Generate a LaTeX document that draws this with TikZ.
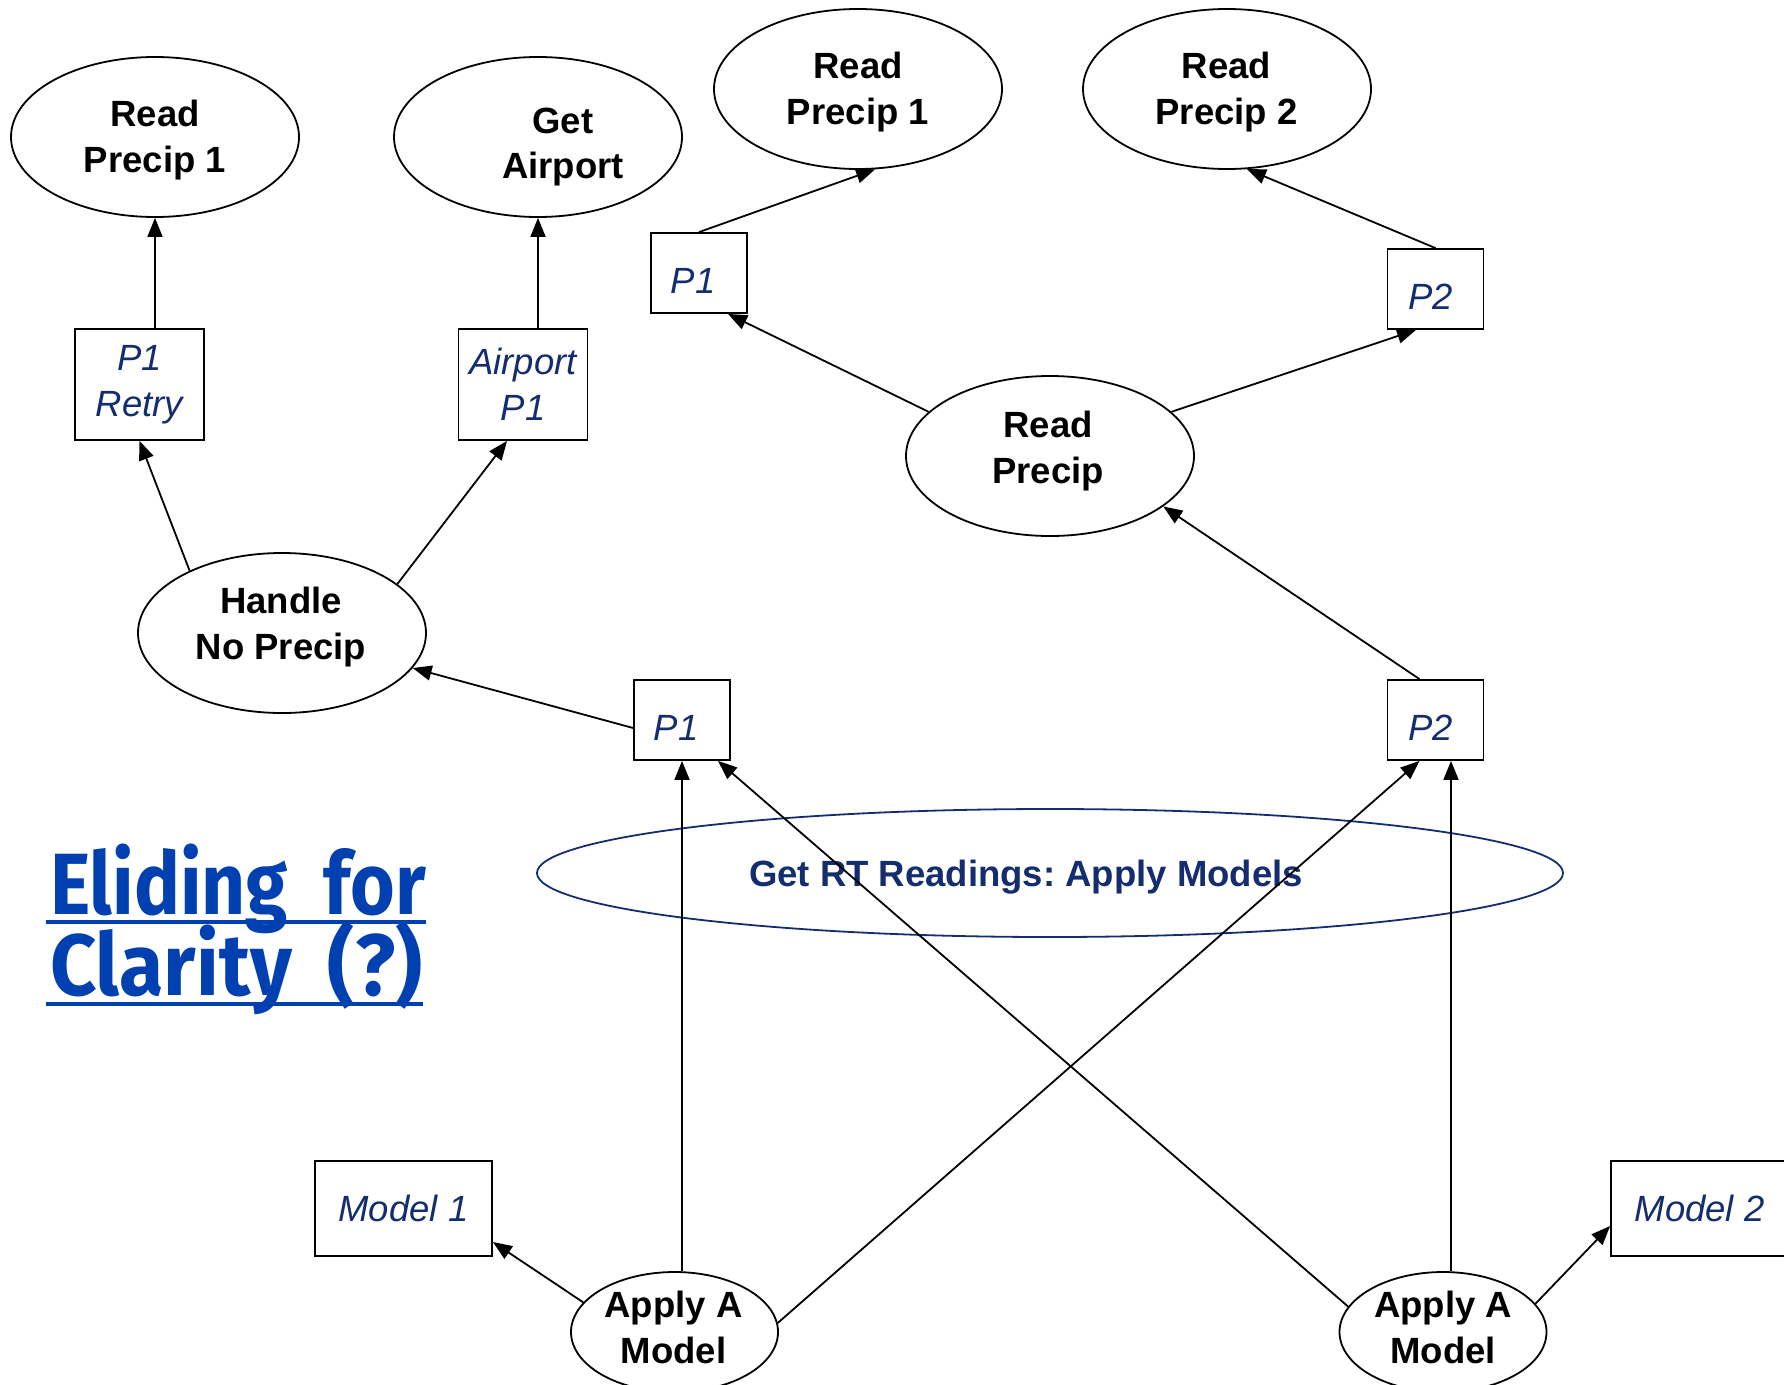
\documentclass[tikz,border=0pt]{standalone}
\usepackage{fontspec}
\setmainfont{Liberation Sans}
\newfontfamily\titlefont{Fira Sans}
\usetikzlibrary{shapes.geometric,arrows.meta,calc}
\definecolor{navy}{RGB}{20,45,110}
\definecolor{titleblue}{RGB}{0,64,176}
\newcommand{\narrowword}[2][0.88]{\scalebox{#1}[1]{#2}}

\begin{document}
\frenchspacing
\begin{tikzpicture}[x=1pt,y=-1pt,
  proc/.style={ellipse,draw,fill=white,line width=1.8pt,minimum width=288pt,minimum height=160pt,inner sep=0pt},
  apply/.style={proc,minimum width=207pt,minimum height=120pt},
  ptext/.style={inner sep=0pt,align=center,font=\bfseries\fontsize{36.5}{45.5}\selectfont},
  pbox/.style={draw,fill=white,line width=1.8pt,inner sep=0pt,align=center,text=navy,
    font=\itshape\fontsize{36.5}{45.5}\selectfont},
  smallbox/.style={draw,fill=white,line width=1.8pt,inner sep=0pt,text=navy,
    font=\itshape\fontsize{36.5}{45.5}\selectfont,
    minimum width=96pt,minimum height=80pt,text height=40pt,text depth=0pt},
  tallbox/.style={pbox,minimum width=129pt,minimum height=111pt},
  modelbox/.style={pbox,minimum width=177pt,minimum height=95pt},
  arr/.style={line width=1.8pt,-{Triangle[length=19pt,width=15pt]}},
  ttl/.style={inner sep=0pt,anchor=base west,text=titleblue,
    font=\titlefont\bfseries\fontsize{87}{90}\selectfont},
  uline/.style={titleblue,line width=4.3pt}
]
\useasboundingbox (0,0) rectangle (1784,1384);

% group ellipse around the model readings
\node[ellipse,draw=navy,line width=1.8pt,minimum width=1026pt,minimum height=128pt,inner sep=0pt] (rt) at (1050,873) {};
\node[ptext,text=navy] (rtt) at (1026,877) {Get RT Readings: Apply Models};

% process ellipses
\node[proc] (rp1a) at (155,137) {};
\node[ptext] (rp1at) at (155,140) {Read\\Precip 1};
\node[proc] (air) at (538,137) {};
\node[ptext] (airt) at (563,147) {Get\\Airport};
\node[proc] (rp1b) at (858,89) {};
\node[ptext] (rp1bt) at (858,92) {Read\\Precip 1};
\node[proc] (rp2) at (1227,89) {};
\node[ptext] (rp2t) at (1226.5,92) {Read\\Precip 2};
\node[proc] (rp) at (1050,456) {};
\node[ptext] (rpt) at (1048,451) {Read\\Precip};
\node[proc] (hnp) at (282,633) {};
\node[ptext] (hnpt) at (281,627) {Handle\\No Precip};
\node[apply] (am1) at (674.5,1332) {};
\node[ptext] (am1t) at (673.5,1327.5) {Apply A\\Model};
\node[apply] (am2) at (1443,1332) {};
\node[ptext] (am2t) at (1443,1327.5) {Apply A\\Model};

% data boxes
\node[tallbox] (p1r) at (139.5,384.5) {P1\\Retry};
\node[tallbox] (ap1) at (523,384.5) {Airport\\P1};
\node[smallbox] (p1t) at (699,273) {\hspace*{-12pt}P1};
\node[smallbox] (p2t) at (1435.5,289) {\hspace*{-10pt}P2};
\node[smallbox] (p1m) at (682,720) {\hspace*{-12pt}P1};
\node[smallbox] (p2m) at (1435.5,720) {\hspace*{-10pt}P2};
\node[modelbox] (m1) at (403.5,1208.5) {Model 1};
\node[modelbox] (m2) at (1699.5,1208.5) {Model 2};

% title
\node[ttl] (t1) at (50,914) {\narrowword{Eliding}\hspace{36pt}\narrowword{for}};
\node[ttl] (t2) at (50,995) {\narrowword[0.93]{Clarity}\hspace{36pt}\narrowword[0.96]{(?)}};
\draw[uline] ($(t1.base west)+(-4,8)$) -- ($(t1.base east)+(0,8)$);
\draw[uline] ($(t2.base west)+(-4,9)$) -- ($(t2.base east)+(0,9)$);

% connectors
\draw[arr] (p1r.north -| rp1a.south) -- (rp1a.south);
\draw[arr] (ap1.north -| air.south) -- (air.south);
\draw[arr] (p1t.north) -- (rp1b.-78);
\draw[arr] (p2t.north) -- (rp2.-76);
\draw[arr] (rp.160) -- ($(p1t.south)+(29,0)$);
\draw[arr] (rp.20) -- ($(p2t.south)+(-19.5,0)$);
\draw[arr] (hnp.146) -- (p1r.south);
\draw[arr] (hnp.23) -- ($(ap1.south)+(-16,0)$);
\draw[arr] ($(p1m.west)+(0,8)$) -- (hnp.-15);
\draw[arr] ($(p2m.north)+(-16,0)$) -- (rp.-24);
\draw[arr] (p1m.south |- am1.north) -- (p1m.south);
\draw[arr] (am1.5) -- ($(p2m.south)+(-16,0)$);
\draw[arr] (am2.165) -- ($(p1m.south)+(36,0)$);
\coordinate (p2mb) at ($(p2m.south)+(15.5,0)$);
\draw[arr] (p2mb |- am2.north) -- (p2mb);
\draw[arr] (am1.162) -- ($(m1.east)+(0,33.5)$);
\draw[arr] (am2.17) -- ($(m2.west)+(0,17.5)$);
\end{tikzpicture}
\end{document}
